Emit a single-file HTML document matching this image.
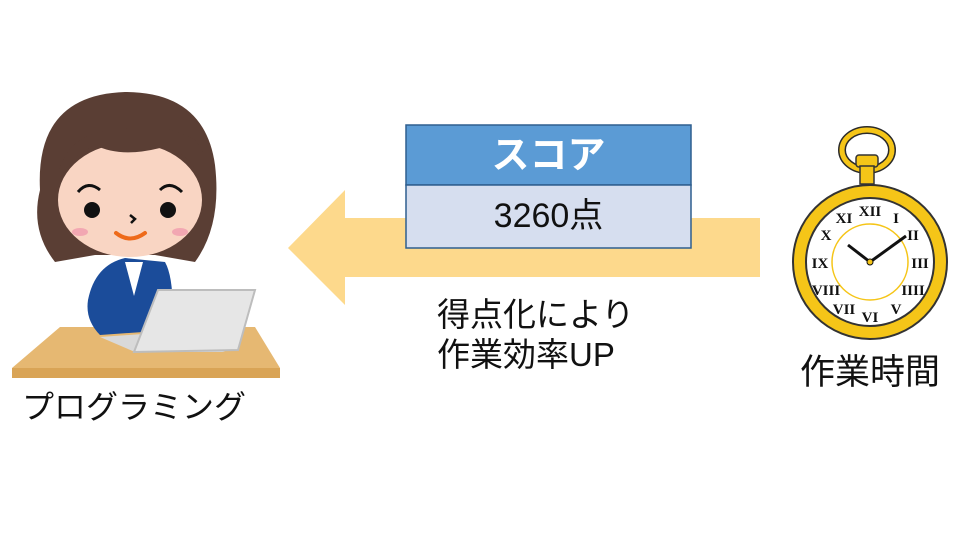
<!DOCTYPE html>
<html><head><meta charset="utf-8"><style>
body{margin:0;width:960px;height:540px;background:#fff;overflow:hidden;position:relative;font-family:"Liberation Sans","Noto Sans CJK JP",sans-serif}
.t{position:absolute;color:#111;white-space:nowrap;line-height:1}
</style></head><body>
<svg width="960" height="540" style="position:absolute;left:0;top:0">
<polygon points="288,248 345,190 345,218 760,218 760,277 345,277 345,305" fill="#FDD98C"/>
<rect x="406" y="125" width="285" height="60" fill="#5B9BD5" stroke="#2F5F8F" stroke-width="1.5"/>
<rect x="406" y="185" width="285" height="63" fill="#D6DEEF" stroke="#2F5F8F" stroke-width="1.5"/>
<polygon points="60,327 255,327 280,368 12,368" fill="#E6B872"/>
<rect x="12" y="368" width="268" height="10" fill="#D9A456"/>
<path d="M88,300 Q95,265 125,258 L165,262 Q175,280 172,330 L100,335 Q85,320 88,300Z" fill="#1B4C9A"/>
<polygon points="125,262 143,262 134,296" fill="#fff"/>
<path d="M40,190 Q35,95 125,92 Q205,92 215,165 Q222,225 195,262 L155,255 L95,255 L55,262 Q30,230 40,190Z" fill="#5A3E34"/>
<ellipse cx="130" cy="200" rx="72" ry="57" fill="#F9D5C3"/>
<path d="M55,195 Q58,130 120,130 Q160,120 195,140 Q212,160 206,195 Q195,150 160,148 Q120,158 95,145 Q62,160 55,195Z" fill="#5A3E34"/>
<circle cx="92" cy="210" r="8" fill="#111"/><circle cx="168" cy="210" r="8" fill="#111"/>
<path d="M78,192 Q88,180 100,190" stroke="#111" stroke-width="3" fill="none"/>
<path d="M160,190 Q170,180 182,192" stroke="#111" stroke-width="3" fill="none"/>
<path d="M130,215 l5,4 -4,4" stroke="#111" stroke-width="2.5" fill="none"/>
<path d="M116,233 Q130,244 145,233" stroke="#EE6A1A" stroke-width="4" fill="none" stroke-linecap="round"/>
<ellipse cx="80" cy="232" rx="8" ry="4" fill="#F2A7B2"/><ellipse cx="180" cy="232" rx="8" ry="4" fill="#F2A7B2"/>
<polygon points="100,337 135,352 225,352 170,332" fill="#D9D9D9"/>
<polygon points="158,290 255,290 238,350 134,352" fill="#E6E6E6" stroke="#BDBDBD" stroke-width="2"/>
<ellipse cx="867" cy="150" rx="25" ry="20" fill="none" stroke="#2A2A2A" stroke-width="8"/>
<ellipse cx="867" cy="150" rx="25" ry="20" fill="none" stroke="#F5C518" stroke-width="5"/>
<rect x="856" y="155" width="22" height="12" rx="3" fill="#F5C518" stroke="#333" stroke-width="1.5"/>
<rect x="860" y="166" width="14" height="18" fill="#F5C518" stroke="#333" stroke-width="1.5"/>
<circle cx="870" cy="262" r="77" fill="#F5C518" stroke="#333" stroke-width="2"/>
<circle cx="870" cy="262" r="64" fill="#fff" stroke="#333" stroke-width="2"/>
<circle cx="870" cy="262" r="38" fill="none" stroke="#F5C518" stroke-width="1.5"/>
<g font-family="Liberation Serif,serif" font-size="15" font-weight="bold" fill="#111" text-anchor="middle">
<text x="870" y="216">XII</text><text x="896" y="223">I</text><text x="913" y="240">II</text>
<text x="920" y="268">III</text><text x="913" y="295">IIII</text><text x="896" y="314">V</text>
<text x="870" y="322">VI</text><text x="844" y="314">VII</text><text x="826" y="295">VIII</text>
<text x="820" y="268">IX</text><text x="826" y="240">X</text><text x="844" y="223">XI</text></g>
<line x1="870" y1="262" x2="848" y2="245" stroke="#111" stroke-width="3"/>
<line x1="870" y1="262" x2="906" y2="236" stroke="#111" stroke-width="3"/>
<circle cx="870" cy="262" r="3" fill="#F5C518" stroke="#111"/>
</svg>
<div class="t" style="left:406px;top:137px;width:285px;text-align:center;color:#fff;font-weight:bold;font-size:38px">スコア</div>
<div class="t" style="left:406px;top:199px;width:285px;text-align:center;font-size:34px">3260点</div>
<div class="t" style="left:437px;top:298px;font-size:33px">得点化により</div>
<div class="t" style="left:437px;top:338px;font-size:33px">作業効率UP</div>
<div class="t" style="left:22px;top:391px;font-size:32px">プログラミング</div>
<div class="t" style="left:800px;top:355px;font-size:35px">作業時間</div>
</body></html>
